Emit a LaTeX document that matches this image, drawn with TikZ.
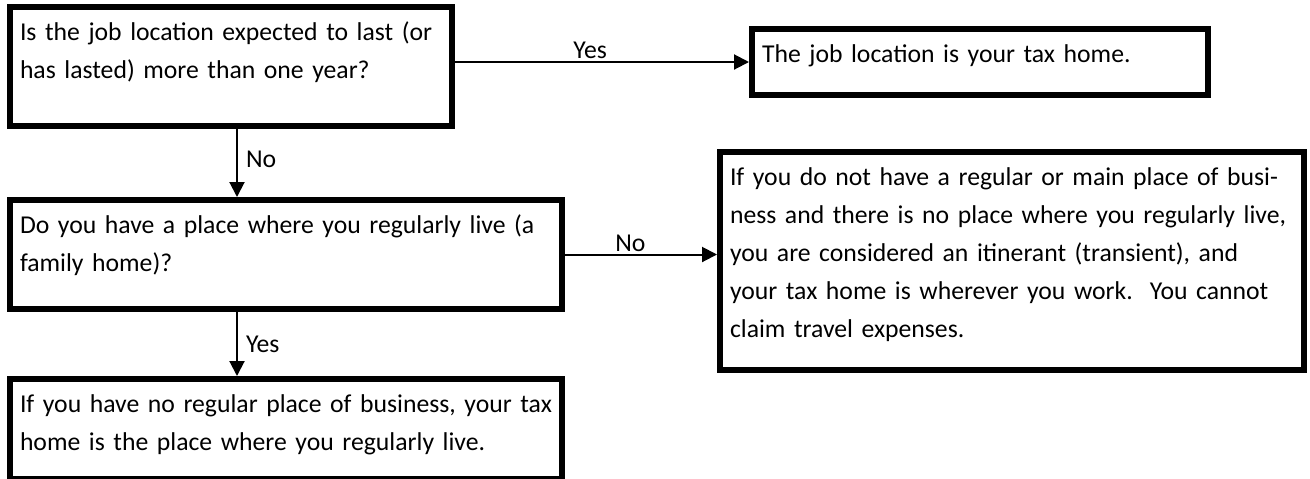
\documentclass[tikz,border=0pt]{standalone}
\usepackage{fontspec}
\setmainfont{Carlito}
\usetikzlibrary{arrows.meta, positioning}

\begin{document}
\begin{tikzpicture}[
    x=0.5pt, y=-0.5pt,
    every node/.style={font=\fontsize{12.85}{19}\selectfont},
    box/.style={rectangle, draw=black, line width=3pt, anchor=north west,
                align=left, inner xsep=5pt, inner ysep=0pt, text height=16.5pt},
    lbl/.style={inner sep=1pt},
    arrow/.style={line width=1pt, -{Triangle[length=7.5pt, width=7.5pt]}}
]

\fill[white] (0,0) rectangle (1310,478);
\useasboundingbox (0,0) rectangle (1310,478);

\node (q1) [box, text width=211pt, text depth=43pt] at (7,4)
    {Is the job location expected to last (or\\has lasted) more than one year?};
\node (res1) [box, text width=218pt, text depth=16.5pt] at (749,26)
    {The job location is your tax home.};
\node (q2) [box, text width=266pt, text depth=38pt] at (7,197)
    {Do you have a place where you regularly live (a\\family home)?};
\node (res2) [box, text width=282pt, text depth=92.5pt] at (717,149)
    {If you do not have a regular or main place of busi-\\ness and there is no place where you regularly live,\\you are considered an itinerant (transient), and\\your tax home is wherever you work.\ \ You cannot\\claim travel expenses.};
\node (res3) [box, text width=266pt, text depth=33.5pt] at (7,376)
    {If you have no regular place of business, your tax\\home is the place where you regularly live.};

\draw [arrow] (q1.east |- res1.west) -- node[lbl, above, pos=0.46] {Yes} (res1.west);
\draw [arrow] ([xshift=3pt]q1.south) -- node[lbl, right=3pt, pos=0.45] {No} ([xshift=3pt]q1.south |- q2.north);
\draw [arrow] (q2.east) -- node[lbl, above, pos=0.43] {No} (q2.east -| res2.west);
\draw [arrow] ([xshift=3pt]q1.south |- q2.south) -- node[lbl, right=3pt] {Yes} ([xshift=3pt]q1.south |- res3.north);

\end{tikzpicture}
\end{document}
